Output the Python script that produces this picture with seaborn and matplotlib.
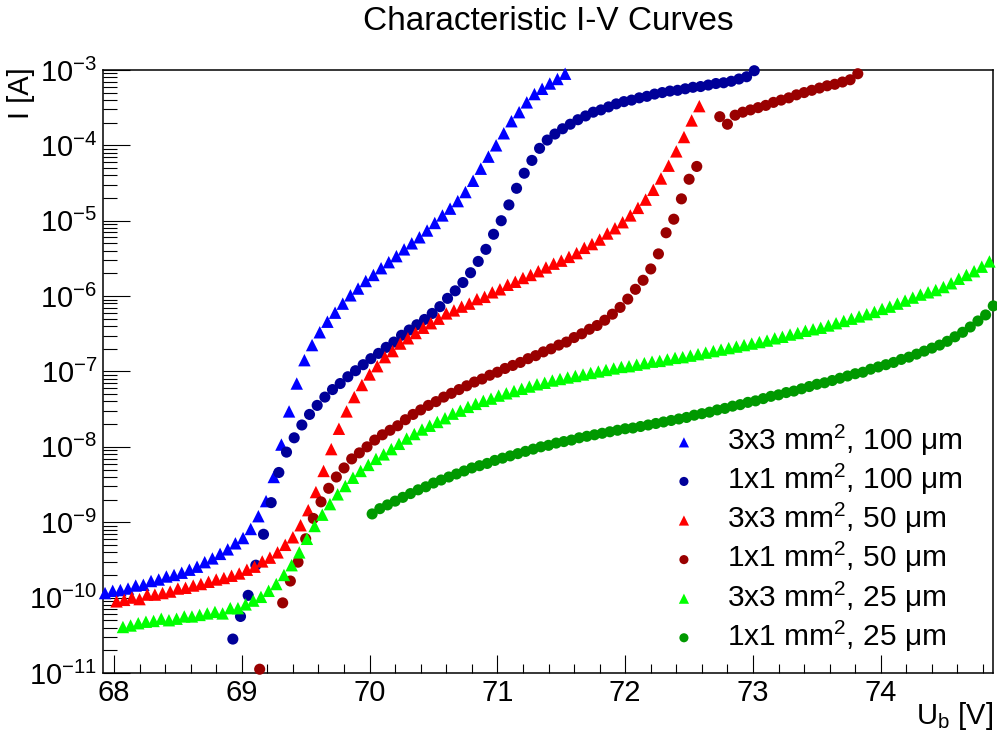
import numpy as np
import pandas as pd
import matplotlib
matplotlib.use("Agg")
import matplotlib.pyplot as plt
import seaborn as sns
from matplotlib.ticker import FixedLocator, NullFormatter

sns.set_style("white")
plt.rcParams["font.family"] = ["Liberation Sans", "DejaVu Sans"]
plt.rcParams["mathtext.fontset"] = "custom"
plt.rcParams["mathtext.rm"] = "Liberation Sans"
plt.rcParams["mathtext.it"] = "Liberation Sans:italic"
plt.rcParams["mathtext.bf"] = "Liberation Sans:bold"
plt.rcParams["mathtext.default"] = "regular"
for key in ["text.color", "axes.labelcolor", "xtick.color", "ytick.color", "axes.edgecolor"]:
    plt.rcParams[key] = "black"

# ---------------- data (voltage [V], log10 of current [A]) ----------------
U_3x3_100 = [67.93, 67.99, 68.05, 68.11, 68.17, 68.23, 68.29, 68.35, 68.41, 68.47,
             68.53, 68.59, 68.65, 68.71, 68.77, 68.83, 68.89, 68.95, 69.01, 69.07,
             69.13, 69.19, 69.25, 69.31, 69.37, 69.43, 69.49, 69.55, 69.61, 69.67,
             69.73, 69.79, 69.85, 69.91, 69.97, 70.03, 70.09, 70.15, 70.21, 70.27,
             70.33, 70.39, 70.45, 70.51, 70.57, 70.63, 70.69, 70.75, 70.81, 70.87,
             70.93, 70.99, 71.05, 71.11, 71.17, 71.23, 71.29, 71.35, 71.41, 71.47, 71.53]
logI_3x3_100 = [-9.94, -9.91, -9.90, -9.88, -9.84, -9.83, -9.78, -9.76, -9.72, -9.70,
                -9.67, -9.63, -9.59, -9.53, -9.48, -9.42, -9.36, -9.28, -9.21, -9.09,
                -8.92, -8.72, -8.40, -7.97, -7.53, -7.16, -6.85, -6.65, -6.48, -6.34,
                -6.22, -6.10, -5.99, -5.90, -5.80, -5.72, -5.63, -5.55, -5.47, -5.38,
                -5.30, -5.22, -5.13, -5.03, -4.93, -4.84, -4.74, -4.62, -4.47, -4.31,
                -4.15, -4.00, -3.84, -3.68, -3.56, -3.43, -3.32, -3.25, -3.18, -3.12, -3.05]

U_1x1_100 = [68.93, 68.99, 69.05, 69.11, 69.17, 69.23, 69.29, 69.35, 69.41, 69.47,
             69.53, 69.59, 69.65, 69.71, 69.77, 69.83, 69.89, 69.95, 70.01, 70.07,
             70.13, 70.19, 70.25, 70.31, 70.37, 70.43, 70.49, 70.55, 70.61, 70.67,
             70.73, 70.79, 70.85, 70.91, 70.97, 71.03, 71.09, 71.15, 71.21, 71.27,
             71.33, 71.39, 71.45, 71.51, 71.57, 71.63, 71.69, 71.75, 71.81, 71.87,
             71.93, 71.99, 72.05, 72.11, 72.17, 72.23, 72.29, 72.35, 72.41, 72.47,
             72.53, 72.59, 72.65, 72.71, 72.77, 72.83, 72.89, 72.95, 73.01]
logI_1x1_100 = [-10.55, -10.25, -9.97, -9.57, -9.16, -8.74, -8.34, -8.07, -7.88, -7.71,
                -7.57, -7.45, -7.34, -7.24, -7.16, -7.07, -6.99, -6.91, -6.83, -6.76,
                -6.68, -6.61, -6.52, -6.45, -6.38, -6.31, -6.23, -6.14, -6.03, -5.93,
                -5.82, -5.69, -5.54, -5.38, -5.18, -5.00, -4.79, -4.57, -4.37, -4.20,
                -4.04, -3.93, -3.85, -3.78, -3.72, -3.66, -3.61, -3.56, -3.53, -3.49,
                -3.45, -3.42, -3.40, -3.37, -3.35, -3.32, -3.30, -3.28, -3.27, -3.25,
                -3.23, -3.22, -3.20, -3.18, -3.17, -3.15, -3.12, -3.09, -3.01]

U_3x3_50 = [68.02, 68.08, 68.14, 68.20, 68.26, 68.32, 68.38, 68.44, 68.50, 68.56,
            68.62, 68.68, 68.74, 68.80, 68.86, 68.92, 68.98, 69.04, 69.10, 69.16,
            69.22, 69.28, 69.34, 69.40, 69.46, 69.52, 69.58, 69.64, 69.70, 69.76,
            69.82, 69.88, 69.94, 70.00, 70.06, 70.12, 70.18, 70.24, 70.30, 70.36,
            70.42, 70.48, 70.54, 70.60, 70.66, 70.72, 70.78, 70.84, 70.90, 70.96,
            71.02, 71.08, 71.14, 71.20, 71.26, 71.32, 71.38, 71.44, 71.50, 71.56,
            71.62, 71.68, 71.74, 71.80, 71.86, 71.92, 71.98, 72.04, 72.10, 72.16,
            72.22, 72.28, 72.34, 72.40, 72.46, 72.52, 72.58]
logI_3x3_50 = [-10.05, -10.03, -10.00, -10.02, -9.96, -9.96, -9.94, -9.92, -9.88, -9.87,
               -9.84, -9.82, -9.79, -9.76, -9.74, -9.71, -9.68, -9.63, -9.59, -9.52,
               -9.47, -9.40, -9.30, -9.20, -9.04, -8.84, -8.60, -8.32, -8.03, -7.76,
               -7.53, -7.34, -7.18, -7.04, -6.93, -6.81, -6.73, -6.63, -6.56, -6.49,
               -6.42, -6.36, -6.30, -6.23, -6.19, -6.14, -6.10, -6.04, -6.01, -5.95,
               -5.91, -5.85, -5.81, -5.76, -5.72, -5.67, -5.62, -5.57, -5.53, -5.48,
               -5.43, -5.36, -5.31, -5.25, -5.17, -5.10, -5.02, -4.93, -4.83, -4.72,
               -4.59, -4.44, -4.27, -4.08, -3.89, -3.67, -3.48]

U_1x1_50 = [69.14,
            69.32, 69.38, 69.44, 69.50, 69.56, 69.62, 69.68, 69.74, 69.80, 69.86,
            69.92, 69.98, 70.04, 70.10, 70.16, 70.22, 70.28, 70.34, 70.40, 70.46,
            70.52, 70.58, 70.64, 70.70, 70.76, 70.82, 70.88, 70.94, 71.00, 71.06,
            71.12, 71.18, 71.24, 71.30, 71.36, 71.42, 71.48, 71.54, 71.60, 71.66,
            71.72, 71.78, 71.84, 71.90, 71.96, 72.02, 72.08, 72.14, 72.20, 72.26,
            72.32, 72.38, 72.44, 72.50, 72.56,
            72.74, 72.80, 72.86, 72.92, 72.98, 73.04, 73.10, 73.16, 73.22, 73.28,
            73.34, 73.40, 73.46, 73.52, 73.58, 73.64, 73.70, 73.76, 73.82]
logI_1x1_50 = [-10.95,
               -10.07, -9.78, -9.53, -9.22, -8.95, -8.73, -8.55, -8.40, -8.28, -8.16,
               -8.08, -8.00, -7.91, -7.84, -7.78, -7.72, -7.64, -7.57, -7.51, -7.45,
               -7.40, -7.34, -7.29, -7.24, -7.19, -7.14, -7.10, -7.05, -7.01, -6.96,
               -6.92, -6.88, -6.83, -6.79, -6.74, -6.70, -6.65, -6.61, -6.55, -6.50,
               -6.44, -6.39, -6.32, -6.24, -6.15, -6.04, -5.91, -5.79, -5.64, -5.44,
               -5.16, -4.98, -4.71, -4.45, -4.28,
               -3.62, -3.72, -3.60, -3.56, -3.53, -3.50, -3.47, -3.43, -3.40, -3.37,
               -3.33, -3.30, -3.27, -3.24, -3.21, -3.19, -3.16, -3.13, -3.05]

U_3x3_25 = [68.07, 68.13, 68.19, 68.25, 68.31, 68.37, 68.43, 68.49, 68.55, 68.61,
            68.67, 68.73, 68.79, 68.85, 68.91, 68.97, 69.03, 69.09, 69.15, 69.21,
            69.27, 69.33, 69.39, 69.45, 69.51, 69.57, 69.63, 69.69, 69.75, 69.81,
            69.87, 69.93, 69.99, 70.05, 70.11, 70.17, 70.23, 70.29, 70.35, 70.41,
            70.47, 70.53, 70.59, 70.65, 70.71, 70.77, 70.83, 70.89, 70.95, 71.01,
            71.07, 71.13, 71.19, 71.25, 71.31, 71.37, 71.43, 71.49, 71.55, 71.61,
            71.67, 71.73, 71.79, 71.85, 71.91, 71.97, 72.03, 72.09, 72.15, 72.21,
            72.27, 72.33, 72.39, 72.45, 72.51, 72.57, 72.63, 72.69, 72.75, 72.81,
            72.87, 72.93, 72.99, 73.05, 73.11, 73.17, 73.23, 73.29, 73.35, 73.41,
            73.47, 73.53, 73.59, 73.65, 73.71, 73.77, 73.83, 73.89, 73.95, 74.01,
            74.07, 74.13, 74.19, 74.25, 74.31, 74.37, 74.43, 74.49, 74.55, 74.61,
            74.67, 74.73, 74.79, 74.85]
logI_3x3_25 = [-10.39, -10.37, -10.34, -10.32, -10.31, -10.28, -10.30, -10.28, -10.25, -10.25,
               -10.23, -10.21, -10.19, -10.21, -10.14, -10.14, -10.09, -10.04, -9.99, -9.91,
               -9.82, -9.70, -9.57, -9.40, -9.22, -9.05, -8.90, -8.76, -8.63, -8.52,
               -8.41, -8.32, -8.24, -8.16, -8.10, -8.03, -7.96, -7.89, -7.83, -7.77,
               -7.72, -7.67, -7.62, -7.56, -7.52, -7.47, -7.43, -7.39, -7.36, -7.32,
               -7.29, -7.26, -7.23, -7.20, -7.17, -7.15, -7.12, -7.10, -7.08, -7.06,
               -7.04, -7.02, -7.00, -6.98, -6.96, -6.94, -6.93, -6.91, -6.89, -6.87,
               -6.86, -6.84, -6.82, -6.81, -6.79, -6.77, -6.75, -6.73, -6.71, -6.69,
               -6.67, -6.65, -6.63, -6.61, -6.59, -6.56, -6.54, -6.51, -6.49, -6.46,
               -6.44, -6.42, -6.39, -6.36, -6.33, -6.30, -6.27, -6.24, -6.21, -6.17,
               -6.14, -6.10, -6.06, -6.02, -5.98, -5.95, -5.92, -5.88, -5.83, -5.77,
               -5.72, -5.67, -5.61, -5.54]

U_1x1_25 = [70.02, 70.08, 70.14, 70.20, 70.26, 70.32, 70.38, 70.44, 70.50, 70.56,
            70.62, 70.68, 70.74, 70.80, 70.86, 70.92, 70.98, 71.04, 71.10, 71.16,
            71.22, 71.28, 71.34, 71.40, 71.46, 71.52, 71.58, 71.64, 71.70, 71.76,
            71.82, 71.88, 71.94, 72.00, 72.06, 72.12, 72.18, 72.24, 72.30, 72.36,
            72.42, 72.48, 72.54, 72.60, 72.66, 72.72, 72.78, 72.84, 72.90, 72.96,
            73.02, 73.08, 73.14, 73.20, 73.26, 73.32, 73.38, 73.44, 73.50, 73.56,
            73.62, 73.68, 73.74, 73.80, 73.86, 73.92, 73.98, 74.04, 74.10, 74.16,
            74.22, 74.28, 74.34, 74.40, 74.46, 74.52, 74.58, 74.64, 74.70, 74.76,
            74.82, 74.88]
logI_1x1_25 = [-8.89, -8.82, -8.77, -8.72, -8.67, -8.62, -8.57, -8.53, -8.48, -8.44,
               -8.40, -8.36, -8.32, -8.28, -8.25, -8.22, -8.18, -8.15, -8.12, -8.09,
               -8.06, -8.03, -8.00, -7.98, -7.95, -7.93, -7.91, -7.88, -7.86, -7.84,
               -7.82, -7.80, -7.78, -7.76, -7.75, -7.73, -7.71, -7.69, -7.67, -7.65,
               -7.63, -7.61, -7.58, -7.56, -7.54, -7.51, -7.49, -7.46, -7.44, -7.41,
               -7.39, -7.36, -7.33, -7.31, -7.28, -7.26, -7.23, -7.20, -7.17, -7.15,
               -7.12, -7.09, -7.06, -7.03, -7.01, -6.97, -6.94, -6.91, -6.88, -6.84,
               -6.81, -6.77, -6.73, -6.69, -6.65, -6.60, -6.54, -6.48, -6.41, -6.33,
               -6.25, -6.13]

labels = ["3x3 mm$^{2}$, 100 \u03bcm", "1x1 mm$^{2}$, 100 \u03bcm",
          "3x3 mm$^{2}$, 50 \u03bcm", "1x1 mm$^{2}$, 50 \u03bcm",
          "3x3 mm$^{2}$, 25 \u03bcm", "1x1 mm$^{2}$, 25 \u03bcm"]
x_ticks = [68, 69, 70, 71, 72, 73, 74]
y_exponents = [-11, -10, -9, -8, -7, -6, -5, -4, -3]

# ---------------- styling ----------------
colors = ["#0000ff", "#000099", "#ff0000", "#990000", "#00ff00", "#009900"]
markers = ["^", "o", "^", "o", "^", "o"]
sizes = [80, 64, 80, 64, 80, 64]

xs = [U_3x3_100, U_1x1_100, U_3x3_50, U_1x1_50, U_3x3_25, U_1x1_25]
ys = [logI_3x3_100, logI_1x1_100, logI_3x3_50, logI_1x1_50, logI_3x3_25, logI_1x1_25]

fig = plt.figure(figsize=(9.97, 7.38), dpi=100)
ax = fig.add_axes([0.1033, 0.0881, 0.8927, 0.8171])
ax.set_yscale("log")

for x, ly, lab, c, m, s in zip(xs, ys, labels, colors, markers, sizes):
    df = pd.DataFrame({"U": x, "I": 10.0 ** np.array(ly)})
    sns.scatterplot(data=df, x="U", y="I", ax=ax, color=c, marker=m, s=s,
                    linewidth=0, edgecolor="none", label=lab, clip_on=False,
                    zorder=3, legend=False)

ax.set_xlim(67.914, 74.878)
ax.set_ylim(1e-11, 1e-3)

# ticks
ax.xaxis.set_major_locator(FixedLocator(x_ticks))
ax.set_xticklabels([str(t) for t in x_ticks])
ax.xaxis.set_minor_locator(FixedLocator([v / 10 for v in range(680, 750, 2)]))
ax.yaxis.set_major_locator(FixedLocator([10.0 ** e for e in y_exponents]))
ax.set_yticklabels([r"$10^{%d}$" % e for e in y_exponents])
ax.yaxis.set_minor_locator(FixedLocator([k * 10.0 ** e for e in y_exponents[:-1] for k in range(2, 10)]))
ax.yaxis.set_minor_formatter(NullFormatter())

ax.tick_params(axis="both", which="both", direction="in", top=False, right=False,
               bottom=True, left=True, width=0.8, color="black", labelcolor="black")
ax.tick_params(axis="x", which="major", length=13, pad=4, labelsize=21)
ax.tick_params(axis="x", which="minor", length=6.5)
ax.tick_params(axis="y", which="major", length=19.5, pad=4, labelsize=21)
ax.tick_params(axis="y", which="minor", length=10)

for sp in ax.spines.values():
    sp.set_visible(True)
    sp.set_color("black")
    sp.set_linewidth(1.1)

ax.set_xlabel(r"U$_{b}$ [V]", fontsize=21, loc="right", color="black")
ax.xaxis.set_label_coords(1.0, -0.045)
ax.set_ylabel("I [A]", fontsize=21, loc="top", color="black")
ax.yaxis.set_label_coords(-0.076, 1.005)

fig.text(0.5497, 1 - 22 / 738, "Characteristic I-V Curves", ha="center", va="center",
         fontsize=24, color="black")

leg = ax.legend(loc="upper left", bbox_to_anchor=(669 / 997, 1 - 423 / 738),
                bbox_transform=fig.transFigure, frameon=False, fontsize=21.5,
                handlelength=1.0, handletextpad=0.95, labelspacing=0.13,
                borderpad=0, borderaxespad=0, markerscale=0.82)
for t in leg.get_texts():
    t.set_color("black")

fig.savefig("out.png", dpi=100, facecolor="white")
